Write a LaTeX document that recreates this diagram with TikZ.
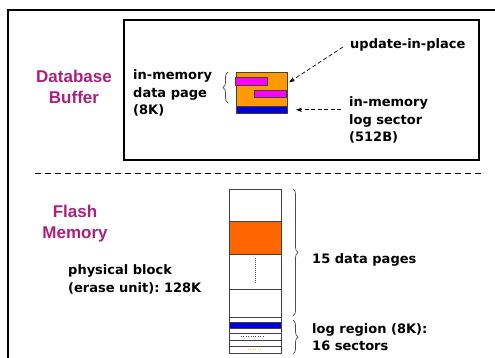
\documentclass[tikz,border=0pt]{standalone}
\usepackage{fontspec}
\setmainfont{DejaVu Sans}
\newfontfamily\titlefont{Liberation Sans}
\usetikzlibrary{decorations.pathreplacing,arrows.meta}
\definecolor{titlecol}{RGB}{172,32,125}
\definecolor{pageorange}{RGB}{255,153,0}
\definecolor{flashorange}{RGB}{255,102,0}
\definecolor{pagemag}{RGB}{255,0,255}
\definecolor{secblue}{RGB}{0,0,220}
\begin{document}
\begin{tikzpicture}[x=1pt,y=-1pt,
 txt/.style={font=\bfseries\fontsize{13}{17.5}\selectfont, inner sep=0pt, align=left, anchor=west},
 ttl/.style={font=\titlefont\bfseries\fontsize{17}{21}\selectfont, text=titlecol, inner sep=0pt, align=center},
 dasharrow/.style={dash pattern=on 4pt off 2.5pt, line width=0.7pt, -{Stealth[length=6pt,width=4.5pt]}},
 brc/.style={decorate, decoration={brace, amplitude=5pt}, line width=0.7pt, black!70},
 cell/.style={draw=black!75, line width=0.6pt}]
\useasboundingbox (0,0) rectangle (495,358);
\fill[white] (0,0) rectangle (495,358);
% frames
\draw[line width=1.3pt] (8,358) -- (8,10) -- (495,10);
\draw[line width=1.8pt] (124,20) rectangle (479,160);
\draw[dash pattern=on 6pt off 4pt, line width=0.9pt] (35,173) -- (482,173);
% titles
\node[ttl] (db) at (74,87) {Database\\Buffer};
\node[ttl] (fm) at (75,224) {Flash\\Memory};
% buffer texts
\node[txt] (dp) at (133,93) {in-memory\\data page\\(8K)};
\node[txt] (upd) at (350,45) {update-in-place};
\node[txt] (ls) at (349,120) {in-memory\\log sector\\(512B)};
% data page
\node[cell, fill=pageorange, minimum width=51pt, minimum height=34pt, inner sep=0pt, anchor=north west] (page) at (235.5,72) {};
\node[cell, fill=secblue, minimum width=51pt, minimum height=7pt, inner sep=0pt, anchor=north west] (logsec) at (235.5,106) {};
\draw[cell, fill=pagemag] (235.5,77.5) rectangle (267,85);
\draw[cell, fill=pagemag] (254.5,90) rectangle (286.5,97);
\draw[brc] (228,103) -- (228,72);
% arrows
\draw[dasharrow] ([xshift=-7pt,yshift=-2pt]upd.west) -- ([xshift=2pt,yshift=7pt]page.east);
\coordinate (a2) at (logsec.east -| ls.west);
\draw[dasharrow] ([xshift=-8pt]a2) -- ([xshift=9pt]logsec.east);
% flash texts
\node[txt, font=\bfseries\fontsize{13}{18}\selectfont] (pb) at (68,279) {physical block\\(erase unit):\ 128K};
\node[txt] (dpages) at (312,260) {15 data pages};
\node[txt, font=\bfseries\fontsize{13}{17}\selectfont] (lr) at (312,337) {log region (8K):\\16 sectors};
% flash block
\draw[cell] (229,189) rectangle (281,221);
\draw[cell, fill=flashorange] (229,221) rectangle (281,254);
\draw[cell] (229,254) rectangle (281,289);
\draw[cell] (229,289) rectangle (281,317);
\draw[cell] (229,317) rectangle (281,322);
\draw[cell, fill=secblue] (229,322) rectangle (281,328);
\draw[cell] (229,328) rectangle (281,333.5);
\draw[cell] (229,333.5) rectangle (281,340);
\draw[cell] (229,340) rectangle (281,346.5);
\draw[cell] (229,346.5) rectangle (281,353);
\draw[line width=0.8pt, dash pattern=on 0.8pt off 1.2pt, black!70] (255,258) -- (255,283);
\draw[line width=0.8pt, dash pattern=on 0.8pt off 1.6pt, black!70] (241,336.8) -- (263,336.8);
\draw[line width=0.8pt, dash pattern=on 0.8pt off 1.6pt, yellow!80!orange] (248,349.5) -- (262,349.5);
\draw[brc] (293,189) -- (293,316);
\draw[brc] (293,320) -- (293,354);
\end{tikzpicture}
\end{document}
